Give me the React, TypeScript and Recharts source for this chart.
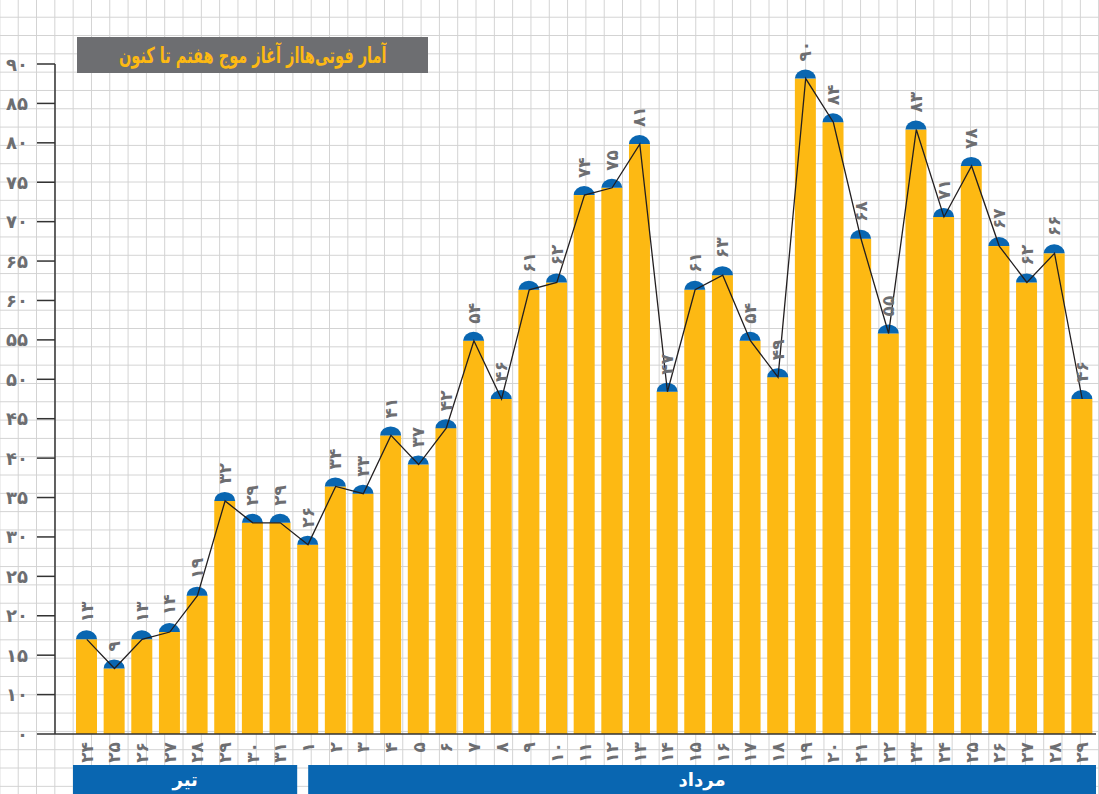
import React from 'react';
import { ComposedChart, Bar, Line, XAxis, YAxis, LabelList } from 'recharts';

// ---- data ----
const days = ['۲۴', '۲۵', '۲۶', '۲۷', '۲۸', '۲۹', '۳۰', '۳۱', '۱', '۲', '۳', '۴', '۵', '۶', '۷', '۸', '۹', '۱۰', '۱۱', '۱۲', '۱۳', '۱۴', '۱۵', '۱۶', '۱۷', '۱۸', '۱۹', '۲۰', '۲۱', '۲۲', '۲۳', '۲۴', '۲۵', '۲۶', '۲۷', '۲۸', '۲۹'];
const deaths = [13, 9, 13, 14, 19, 32, 29, 29, 26, 34, 33, 41, 37, 42, 54, 46, 61, 62, 74, 75, 81, 47, 61, 63, 54, 49, 90, 84, 68, 55, 83, 71, 78, 67, 62, 66, 46];
const yTickLabels = ['۰', '۱۰', '۱۵', '۲۰', '۲۵', '۳۰', '۳۵', '۴۰', '۴۵', '۵۰', '۵۵', '۶۰', '۶۵', '۷۰', '۷۵', '۸۰', '۸۵', '۹۰'];
const months = ['تیر', 'مرداد'];
const monthStart = [0, 8];
const monthEnd = [7, 36];
const title = 'آمار فوتی\u200cهااز آغاز موج هفتم تا کنون';

const data = days.map((d, i) => ({ day: d, deaths: deaths[i] }));

// ---- style / layout ----
const W = 1099;
const H = 794;
const ORANGE = '#FDB913';
const BLUE = '#0966B1';
const GRAY = '#6D6E71';
const AXIS = '#333333';
const FONT = '"DejaVu Sans", sans-serif';
const PLOT_LEFT = 55 + 18;
const PLOT_RIGHT = W - 3;
const STEP = (PLOT_RIGHT - PLOT_LEFT) / days.length;
const Y_MAX = 92;
const yTickValues = yTickLabels.map((_, i) => (i * Y_MAX) / (yTickLabels.length - 1));
const monthInsetL = [0, 14];
const monthInsetR = [3, 0];
const CAP_RY = 9;

const toFa = (n: number) => String(n).replace(/\d/g, (c) => '۰۱۲۳۴۵۶۷۸۹'[Number(c)]);

const CapBar = (props: any) => {
  const { x, y, width, height } = props;
  if (x == null || y == null) return null;
  return (
    <g>
      <rect x={x} y={y} width={width} height={height} fill={ORANGE} />
      <path d={`M${x},${y} A${width / 2},${CAP_RY} 0 0 1 ${x + width},${y} Z`} fill={BLUE} />
    </g>
  );
};

const renderValueLabel = (props: any) => {
  const { x, y, width, value } = props;
  const cx = Number(x) + Number(width) / 2;
  const ty = Number(y) - 17;
  return (
    <text
      transform={`translate(${cx},${ty}) rotate(-90)`}
      textAnchor="start"
      dominantBaseline="central"
      fill={GRAY}
      fontSize={17}
      fontWeight="bold"
      fontFamily={FONT}
    >
      {toFa(Number(value))}
    </text>
  );
};

const DayTick = (props: any) => {
  const { x, y, payload } = props;
  return (
    <text
      transform={`translate(${x},${y}) rotate(-90)`}
      textAnchor="end"
      dominantBaseline="central"
      fill={GRAY}
      fontSize={17}
      fontWeight="bold"
      fontFamily={FONT}
    >
      {payload.value}
    </text>
  );
};

const YTick = (props: any) => {
  const { x, y, index } = props;
  return (
    <text
      x={x}
      y={y}
      textAnchor="end"
      dominantBaseline="central"
      fill={GRAY}
      fontSize={18}
      fontWeight="bold"
      fontFamily={FONT}
    >
      {yTickLabels[index]}
    </text>
  );
};

const MonthTick = (props: any) => {
  const { x, y, index } = props;
  const m = monthStart.indexOf(index);
  if (m < 0) return <g />;
  const left = x - STEP / 2 + monthInsetL[m];
  const right = x + (monthEnd[m] - monthStart[m]) * STEP + STEP / 2 + monthInsetR[m];
  return (
    <g>
      <rect x={left} y={y} width={right - left} height={29} fill={BLUE} />
      <text
        x={(left + right) / 2}
        y={y + 14}
        textAnchor="middle"
        dominantBaseline="central"
        fill="#ffffff"
        fontSize={18}
        fontWeight="bold"
        fontFamily={FONT}
      >
        {months[m]}
      </text>
    </g>
  );
};

export default function App() {
  return (
    <div
      style={{
        position: 'absolute',
        left: 0,
        top: 0,
        width: W,
        height: H,
        overflow: 'hidden',
        backgroundColor: '#ffffff',
        backgroundImage:
          'linear-gradient(to right, #d2d2d2 0px, #d2d2d2 1.4px, transparent 1.4px), linear-gradient(to bottom, #d2d2d2 0px, #d2d2d2 1.4px, transparent 1.4px)',
        backgroundSize: '18.32px 18.32px',
        backgroundPosition: '-0.6px -1.6px',
      }}
    >
      <ComposedChart width={W} height={H} data={data} margin={{ top: 64, right: 3, bottom: 0, left: 0 }}>
        <XAxis
          xAxisId="day"
          dataKey="day"
          interval={0}
          tickLine={false}
          tickSize={6}
          tickMargin={2}
          axisLine={{ stroke: AXIS, strokeWidth: 1.5 }}
          height={31}
          padding={{ left: 18, right: 0 }}
          tick={<DayTick />}
        />
        <XAxis
          xAxisId="month"
          dataKey="day"
          interval={0}
          tickLine={false}
          axisLine={false}
          tickSize={0}
          tickMargin={0}
          height={29}
          padding={{ left: 18, right: 0 }}
          tick={<MonthTick />}
        />
        <YAxis
          yAxisId="val"
          type="number"
          domain={[0, Y_MAX]}
          ticks={yTickValues}
          interval={0}
          width={55}
          tickSize={18}
          tickMargin={9}
          tick={<YTick />}
          axisLine={{ stroke: AXIS, strokeWidth: 1.5 }}
          tickLine={{ stroke: AXIS, strokeWidth: 1.5 }}
        />
        <Bar
          xAxisId="day"
          yAxisId="val"
          dataKey="deaths"
          barSize={21}
          shape={<CapBar />}
          isAnimationActive={false}
        >
          <LabelList dataKey="deaths" content={renderValueLabel} />
        </Bar>
        <Line
          xAxisId="day"
          yAxisId="val"
          type="linear"
          dataKey="deaths"
          stroke="#231F20"
          strokeWidth={1.3}
          dot={false}
          activeDot={false}
          isAnimationActive={false}
        />
      </ComposedChart>
      <div
        style={{
          position: 'absolute',
          left: 77,
          top: 37,
          width: 351,
          height: 36,
          background: GRAY,
          display: 'flex',
          alignItems: 'center',
          justifyContent: 'center',
          overflow: 'hidden',
        }}
      >
        <span
          style={{
            color: ORANGE,
            fontFamily: FONT,
            fontWeight: 'bold',
            fontSize: 22,
            direction: 'rtl',
            whiteSpace: 'nowrap',
            display: 'inline-block',
            transform: 'scaleX(0.66)',
          }}
        >
          {title}
        </span>
      </div>
    </div>
  );
}
